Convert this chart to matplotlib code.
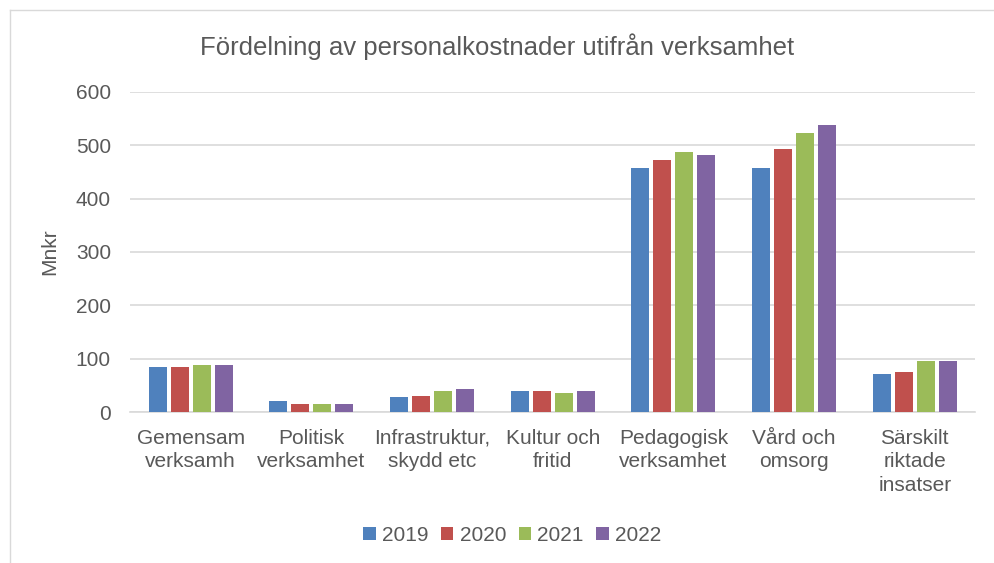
import matplotlib

matplotlib.use("Agg")
import matplotlib.pyplot as plt
from matplotlib.lines import Line2D
import numpy as np

plt.rcParams["font.family"] = ["Liberation Sans", "DejaVu Sans"]

CATEGORIES = [
    "Gemensam\nverksamh",
    "Politisk\nverksamhet",
    "Infrastruktur,\nskydd etc",
    "Kultur och\nfritid",
    "Pedagogisk\nverksamhet",
    "Vård och\nomsorg",
    "Särskilt\nriktade\ninsatser",
]
YEARS = ["2019", "2020", "2021", "2022"]
V2019 = [84, 20, 28, 39, 458, 458, 72]
V2020 = [84, 16, 31, 40, 473, 492, 76]
V2021 = [88, 16, 39, 36, 488, 522, 95]
V2022 = [88, 16, 43, 40, 481, 537, 95]
COLORS = ["#4f81bd", "#c0504d", "#9bbb59", "#8064a2"]
TEXT = "#595959"

fig = plt.figure(figsize=(9.95, 5.63), dpi=100)
ax = fig.add_axes([0.131, 0.268, 0.849, 0.569])

x = np.arange(len(CATEGORIES))
step = 0.182
width = 0.149
for i, (vals, color, year) in enumerate(zip([V2019, V2020, V2021, V2022], COLORS, YEARS)):
    ax.bar(x + (i - 1.5) * step, vals, width=width, color=color, label=year, zorder=3)

ax.set_xlim(-0.5, len(CATEGORIES) - 0.5)
ax.set_ylim(0, 600)
ax.set_yticks(range(0, 601, 100))
ax.yaxis.grid(True, color="#d9d9d9", linewidth=1.2, zorder=0)
ax.set_axisbelow(True)
for side in ["top", "right", "left"]:
    ax.spines[side].set_visible(False)
ax.spines["bottom"].set_color("#d9d9d9")
ax.spines["bottom"].set_linewidth(1.2)
ax.tick_params(axis="both", length=0, colors=TEXT, labelsize=15)
ax.tick_params(axis="y", pad=14)
ax.tick_params(axis="x", pad=12)
ax.set_xticks(x)
ax.set_xticklabels(CATEGORIES, linespacing=1.3)
ax.set_ylabel("Mnkr", color=TEXT, fontsize=15, labelpad=12)

fig.text(0.5, 0.918, "Fördelning av personalkostnader utifrån verksamhet",
         ha="center", va="center", color=TEXT, fontsize=18.5)

ax.legend(loc="center", bbox_to_anchor=(0.452, -0.384), ncol=4, frameon=False,
          fontsize=15, labelcolor=TEXT, handlelength=0.6, handleheight=0.6,
          handletextpad=0.3, columnspacing=0.6)

# light chart border (left and top edges visible)
fig.add_artist(Line2D([10 / 995, 10 / 995], [0, 1 - 10 / 563], transform=fig.transFigure,
                      color="#d9d9d9", linewidth=1))
fig.add_artist(Line2D([10 / 995, 1], [1 - 10 / 563, 1 - 10 / 563], transform=fig.transFigure,
                      color="#d9d9d9", linewidth=1))

fig.savefig("out.png", dpi=100)
